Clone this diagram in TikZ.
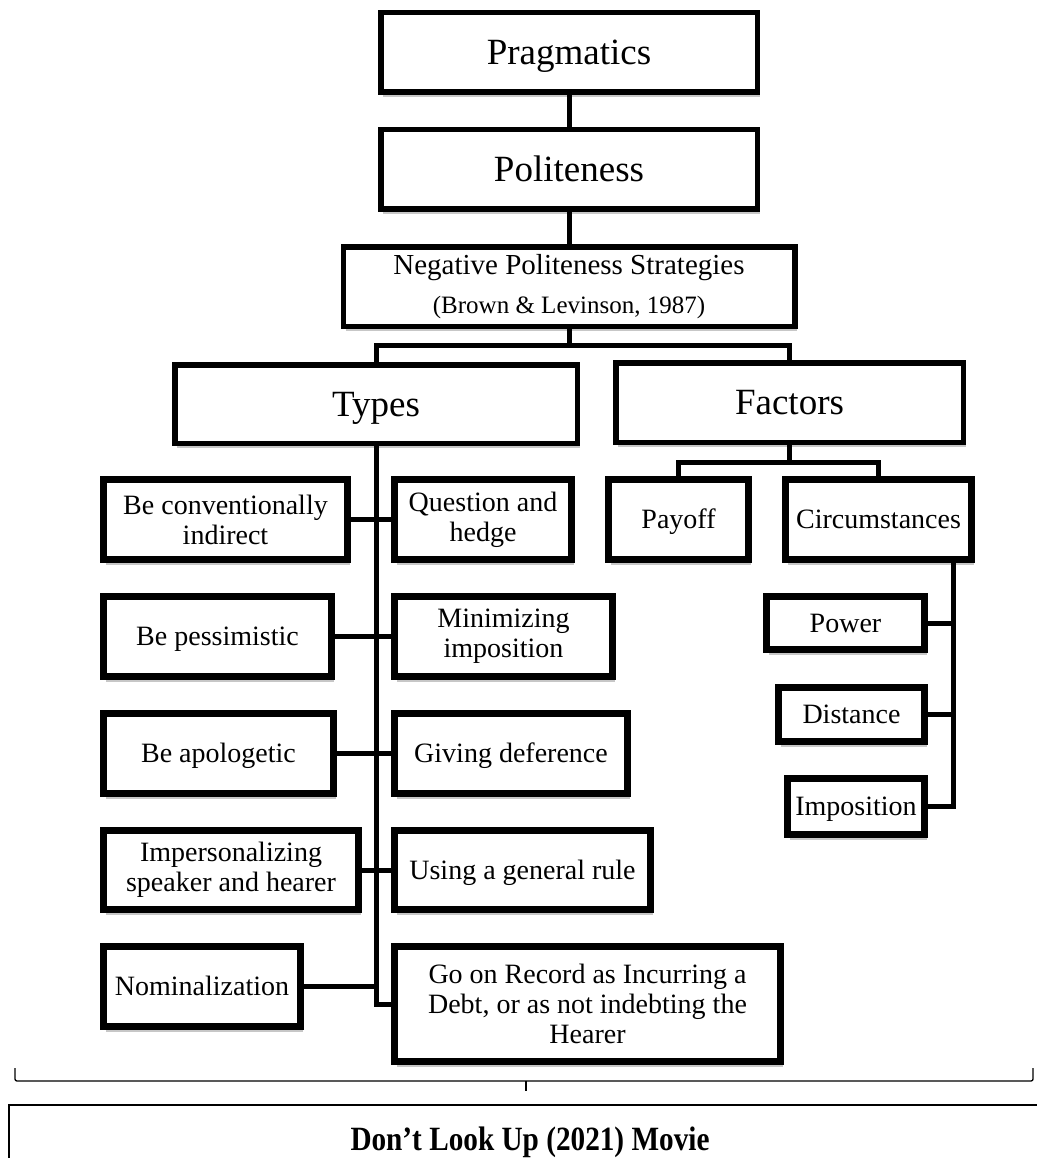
\documentclass[tikz,border=0pt]{standalone}
\usepackage{fontspec}
\setmainfont{Liberation Serif}
\usepackage{graphicx}
\usetikzlibrary{shadows}
\begin{document}
\begin{tikzpicture}[x=1pt,y=-1pt,
  shd/.style={drop shadow={shadow xshift=2.5pt,shadow yshift=-5pt,opacity=0.22,fill=black}},
  topbox/.style={draw,line width=5.5pt,fill=white,shd,inner sep=0pt,align=center,font=\fontsize{37}{42}\selectfont},
  leaf/.style={draw,line width=7pt,fill=white,shd,inner sep=0pt,align=center,font=\fontsize{28}{30}\selectfont},
  oneL/.style={text height=24.5pt,text depth=0pt},
  oneS/.style={text height=18.5pt,text depth=0pt},
  conn/.style={line width=5pt},
  thin/.style={line width=1.3pt}]
\useasboundingbox (0,0) rectangle (1036,1158);
\fill[white] (0,0) rectangle (1036,1158);

% top chain
\node[topbox,oneL,minimum width=376.5pt,minimum height=79.5pt] (prag) at (569,52.5) {Pragmatics};
\node[topbox,oneL,minimum width=376.5pt,minimum height=79.5pt] (polit) at (569,169.5) {Politeness};
\node[topbox,minimum width=451.5pt,minimum height=79.5pt,font=\fontsize{29}{34}\selectfont] (nps) at (569,286.5)
  {Negative Politeness Strategies\\[5pt]{\fontsize{25}{30}\selectfont (Brown \& Levinson, 1987)}};
\node[topbox,oneL,minimum width=402.5pt,minimum height=78.5pt] (types) at (376,404) {Types};
\node[topbox,oneL,minimum width=347.5pt,minimum height=79.5pt] (factors) at (789.5,402.5) {Factors};

% types leaves
\node[leaf,minimum width=244pt,minimum height=80pt] (bci) at (225.5,519.5) {Be conventionally\\indirect};
\node[leaf,minimum width=177pt,minimum height=80pt] (qh) at (483,519.5) {Question and\\hedge};
\node[leaf,oneS,minimum width=228pt,minimum height=80pt] (bp) at (217.5,636.5) {Be pessimistic};
\node[leaf,minimum width=218pt,minimum height=80pt] (mi) at (503.5,636.5) {Minimizing\\imposition};
\node[leaf,oneS,minimum width=230pt,minimum height=80pt] (ba) at (218.5,753.5) {Be apologetic};
\node[leaf,oneS,minimum width=233pt,minimum height=80pt] (gd) at (511,753.5) {Giving deference};
\node[leaf,minimum width=255pt,minimum height=79pt] (isp) at (231,870) {Impersonalizing\\speaker and hearer};
\node[leaf,oneS,minimum width=256pt,minimum height=79pt] (ugr) at (522.5,870) {Using a general rule};
\node[leaf,oneS,minimum width=197pt,minimum height=80pt] (nom) at (202,986.5) {Nominalization};
\node[leaf,minimum width=386pt,minimum height=115pt] (gor) at (587.5,1004) {Go on Record as Incurring a\\Debt, or as not indebting the\\Hearer};

% factors leaves
\node[leaf,oneS,minimum width=140pt,minimum height=80pt] (payoff) at (678.5,519.5) {Payoff};
\node[leaf,oneS,minimum width=186pt,minimum height=80pt] (circ) at (878.5,519.5) {Circumstances};
\node[leaf,oneS,minimum width=158pt,minimum height=53pt] (power) at (845.5,623) {Power};
\node[leaf,oneS,minimum width=146pt,minimum height=54pt] (dist) at (851.5,714.5) {Distance};
\node[leaf,oneS,minimum width=137pt,minimum height=56pt] (impo) at (856,806.5) {Imposition};

% connectors
\draw[conn] (prag.south) -- (polit.north);
\draw[conn] (polit.south) -- (nps.north);
\coordinate (j1) at (569,345);
\draw[conn] (nps.south) -- (j1);
\draw[conn] (types.north) |- (j1) -| (factors.north);
\coordinate (j2) at (789.5,462);
\draw[conn] (factors.south) -- (j2);
\draw[conn] (payoff.north) |- (j2) -| (circ.north);

\draw[conn] (types.south) |- (gor.west);
\draw[conn] (bci.east) -- (qh.west);
\draw[conn] (bp.east) -- (mi.west);
\draw[conn] (ba.east) -- (gd.west);
\draw[conn] (isp.east) -- (ugr.west);
\draw[conn] (nom.east) -- (nom.east -| types.south);

\coordinate (ctop) at (953,560);
\draw[conn] (ctop) |- (impo.east);
\draw[conn] (power.east) -- (power.east -| ctop);
\draw[conn] (dist.east) -- (dist.east -| ctop);

% brace
\coordinate (bl) at (15,1068);
\coordinate (br) at (1033,1068);
\coordinate (btip) at (526,1081);
\draw[thin,rounded corners=2pt] (bl) -- (15,1081) -- (1033,1081) -- (br);
\draw[thin] (btip) -- ++(0,10);

% movie box
\node[draw,line width=1.8pt,minimum width=1042pt,minimum height=74pt,inner sep=0pt] (movie) at (530,1142)
  {\scalebox{0.86}[1]{\fontsize{34}{40}\selectfont\bfseries Don’t Look Up (2021) Movie}};
\end{tikzpicture}
\end{document}
